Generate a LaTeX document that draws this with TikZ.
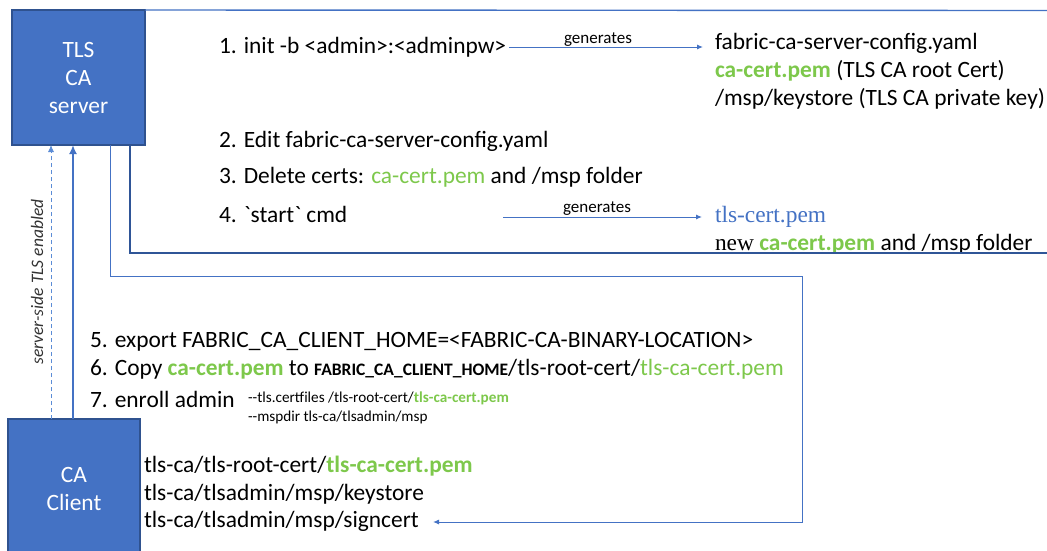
\documentclass[tikz,border=0pt]{standalone}
\usepackage{fontspec}
\setmainfont{Carlito}
\newfontfamily\timesf{Liberation Serif}
\usetikzlibrary{arrows.meta}
\definecolor{boxblue}{RGB}{68,114,196}
\definecolor{boxedge}{RGB}{47,82,143}
\definecolor{lineblue}{RGB}{68,114,196}
\definecolor{darkline}{RGB}{47,85,151}
\definecolor{lightblue}{RGB}{91,140,214}
\definecolor{certgreen}{RGB}{125,200,75}
\newcommand\gr[1]{\textcolor{certgreen}{#1}}
\newcommand\grb[1]{\textcolor{certgreen}{\bfseries #1}}
\begin{document}
\begin{tikzpicture}[x=1pt,y=-1pt,
  every node/.style={inner sep=0pt, outer sep=0pt},
  txt/.style={anchor=base west, font=\fontsize{23.4}{28}\selectfont},
  small/.style={anchor=base west, font=\fontsize{15.2}{17}\selectfont},
  gen/.style={anchor=base, font=\fontsize{17}{20}\selectfont},
  box/.style={draw=boxedge, line width=1.2pt, fill=boxblue, text=white,
    font=\fontsize{23.4}{28}\selectfont, align=center},
  arr/.style={-{Latex[length=6pt,width=5pt]}},
  topline/.style={draw=lineblue, line width=1.4pt},
  darkln/.style={draw=darkline, line width=1.8pt},
  lightln/.style={draw=lineblue, line width=1pt},
  thickarr/.style={draw=lineblue, line width=2.6pt, -{Latex[length=9pt,width=8pt]}},
  dasharr/.style={draw=lightblue, line width=0.8pt, dash pattern=on 4pt off 3pt,
    -{Latex[length=7pt,width=6pt]}},
]
\useasboundingbox (0,0) rectangle (1047,550);
\fill[white] (0,0) rectangle (1047,550);

% boxes
\node[box, minimum width=133pt, minimum height=135pt] (srv) at (78.5,77.5) {TLS\\CA\\server};
\node[box, minimum width=132pt, minimum height=139pt] (cli) at (74,488.5) {CA\\Client};

% server-side text
\node[txt] (s1) at (219,53) {1. init -b <admin>:<adminpw>};
\node[txt] (s2) at (219,147) {2. Edit fabric-ca-server-config.yaml};
\node[txt] (s3) at (219,183) {3. Delete certs: \gr{ca-cert.pem} and /msp folder};
\node[txt] (s4) at (219,222) {4. \textasciigrave start\textasciigrave{} cmd};

\node[txt] (r1) at (715,49) {fabric-ca-server-config.yaml};
\node[txt] (r2) at (715,77) {\grb{ca-cert.pem} (TLS CA root Cert)};
\node[txt] (r3) at (715,105) {/msp/keystore (TLS CA private key)};
\node[txt] (r4) at (715,222) {\timesf\textcolor{lineblue}{tls-cert.pem}};
\node[txt] (r5) at (715,250) {{\timesf new} \grb{ca-cert.pem} and /msp folder};

\node[gen] (g1) at (598,43) {generates};
\node[gen] (g2) at (597,212) {generates};

\coordinate (g1s) at ([xshift=3pt,yshift=6pt]s1.base east);
\coordinate (g1e) at ([xshift=-12pt,yshift=2pt]r1.base west);
\draw[lightln, arr] (g1s) -- (g1e);
\coordinate (g2s) at (503,217);
\coordinate (g2e) at ([xshift=-13pt,yshift=5pt]r4.base west);
\draw[lightln, arr] (g2s) -- (g2e);

% client-side text
\node[txt] (c5) at (90,347) {5. export FABRIC\_CA\_CLIENT\_HOME=<FABRIC-CA-BINARY-LOCATION>};
\node[txt] (c6) at (90,375) {6. Copy \grb{ca-cert.pem} to {\fontsize{17.5}{20}\selectfont\bfseries FABRIC\_CA\_CLIENT\_HOME}/tls-root-cert/\gr{tls-ca-cert.pem}};
\node[txt] (c7) at (90,407) {7. enroll admin};
\node[small] (c7a) at (248,402) {-{}-tls.certfiles /tls-root-cert/\grb{tls-ca-cert.pem}};
\node[small] (c7b) at (248,421) {-{}-mspdir tls-ca/tlsadmin/msp};

\node[txt] (o1) at (144,472) {tls-ca/tls-root-cert/\grb{tls-ca-cert.pem}};
\node[txt] (o2) at (144,500) {tls-ca/tlsadmin/msp/keystore};
\node[txt] (o3) at (144,527) {tls-ca/tlsadmin/msp/signcert};

\node[font=\fontsize{17.5}{20}\selectfont\itshape, text=black!80, rotate=90] (tlsen) at (37,282) {server-side TLS enabled};

% connectors
\coordinate (topend) at (1047,10.5);
\draw[topline] (srv.north east) -- (topend);
\coordinate (e1) at (1047,253);
\draw[darkln] ([xshift=118pt]srv.south west) |- (e1);
\coordinate (c802) at (802,276);
\coordinate (ret) at (433,522);
\draw[lightln, arr] ([xshift=98pt]srv.south west) |- (c802) |- (ret);

\draw[thickarr] ([xshift=65pt]cli.north west) -- ([xshift=61pt]srv.south west);
\draw[dasharr] ([xshift=43pt]cli.north west) -- ([xshift=39pt]srv.south west);
\end{tikzpicture}
\end{document}
